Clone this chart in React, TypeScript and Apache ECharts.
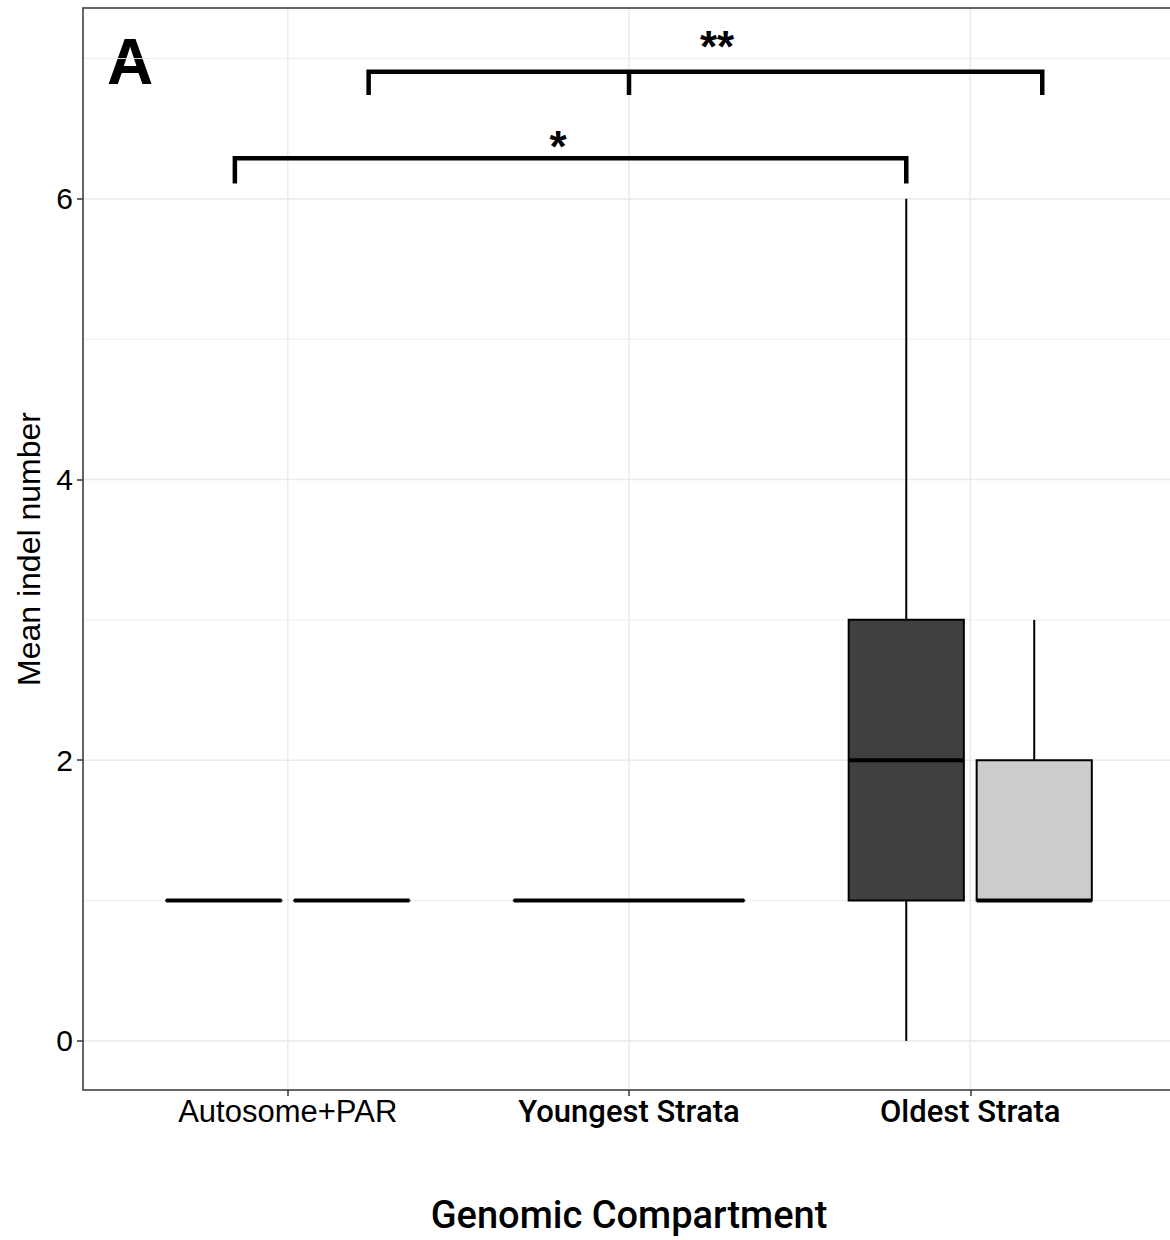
import React, { useEffect, useRef } from "react";
import * as echarts from "echarts";

// ---------- data ----------
const categories = ["Autosome+PAR", "Youngest Strata", "Oldest Strata"];
const groupNames = ["Group 1", "Group 2"];
// [min, q1, median, q3, max] for each category; null = no box
const group1Stats: (number[] | null)[] = [
  [1, 1, 1, 1, 1],
  [1, 1, 1, 1, 1],
  [0, 1, 2, 3, 6],
];
const group2Stats: (number[] | null)[] = [
  [1, 1, 1, 1, 1],
  null,
  [1, 1, 1, 2, 3],
];
const groupFills = ["#404040", "#CCCCCC"];

const yTickValues = [0, 2, 4, 6];
const yMinorValues = [1, 3, 5, 7];
const xTickValues = [1, 2, 3];
const xRange = [0.4, 3.6];
const yRange = [-0.35, 7.36];

// significance brackets (data coordinates)
const bracket1X = [0.845, 0.845, 2.8125, 2.8125];
const bracket1Y = [6.11, 6.29, 6.29, 6.11];
const bracket2X = [1.237, 1.237, 3.211, 3.211];
const bracket2Y = [6.74, 6.905, 6.905, 6.74];
const bracket2MidX = [2.0, 2.0];
const bracket2MidY = [6.905, 6.74];
const sigLabels = ["*", "**"];
const sigLabelX = [1.792, 2.258];
const sigLabelY = [6.42, 7.126];

const panelLabel = "A";

// ---------- helpers ----------
const DODGE = 0.75;
const BOX_FRAC = 0.9;

function buildBoxData(groupIndex: number) {
  const all = [group1Stats, group2Stats];
  const out: number[][] = [];
  categories.forEach((_, ci) => {
    const present = all.map((s, gi) => (s[ci] ? gi : -1)).filter((g) => g >= 0);
    const n = present.length;
    const slot = DODGE / n;
    present.forEach((gi, k) => {
      if (gi !== groupIndex) return;
      const center = ci + 1 - DODGE / 2 + slot * (k + 0.5);
      out.push([center, ...(all[gi][ci] as number[]), slot * BOX_FRAC]);
    });
  });
  return out;
}

function boxRender(fill: string) {
  return (params: any, api: any) => {
    const x = api.value(0);
    const w = api.value(6);
    const [xl, yq1] = api.coord([x - w / 2, api.value(2)]);
    const [xr, yq3] = api.coord([x + w / 2, api.value(4)]);
    const [xc, ymin] = api.coord([x, api.value(1)]);
    const ymax = api.coord([x, api.value(5)])[1];
    const ymed = api.coord([x, api.value(3)])[1];
    const lineStyle = { stroke: "#000", lineWidth: 2 };
    return {
      type: "group",
      children: [
        { type: "line", shape: { x1: xc, y1: yq3, x2: xc, y2: ymax }, style: lineStyle },
        { type: "line", shape: { x1: xc, y1: ymin, x2: xc, y2: yq1 }, style: lineStyle },
        {
          type: "rect",
          shape: { x: xl, y: yq3, width: xr - xl, height: Math.max(yq1 - yq3, 0.01) },
          style: { fill, stroke: "#000", lineWidth: 2 },
        },
        {
          type: "line",
          shape: { x1: xl, y1: ymed, x2: xr, y2: ymed },
          style: { stroke: "#000", lineWidth: 4, lineCap: "butt" },
        },
      ],
    };
  };
}

function toPairs(xs: number[], ys: number[]) {
  return xs.map((x, i) => [x, ys[i]]);
}

export default function App() {
  const ref = useRef<HTMLDivElement>(null);

  useEffect(() => {
    document.body.style.margin = "0";
    document.body.style.overflow = "hidden";
    if (!ref.current) return;
    const chart = echarts.init(ref.current, null, { renderer: "svg" });

    const hGridData = [
      ...yTickValues.map((v) => [v, 1]),
      ...yMinorValues.map((v) => [v, 0]),
    ];
    const vGridData = xTickValues.map((v) => [v]);

    const bracketLine = (data: number[][]) => ({
      type: "line",
      data,
      symbol: "none",
      z: 5,
      lineStyle: { color: "#000", width: 4.5, cap: "butt", join: "miter" },
      silent: true,
    });

    const option: any = {
      animation: false,
      backgroundColor: "#fff",
      grid: {
        left: 83,
        top: 8,
        right: 25,
        bottom: 150,
        show: false,
        containLabel: false,
        outerBoundsMode: "none",
      },
      xAxis: {
        type: "value",
        min: xRange[0],
        max: xRange[1],
        splitLine: { show: false },
        axisLine: { show: false, onZero: false },
        axisTick: {
          show: true,
          customValues: xTickValues,
          length: 6,
          lineStyle: { color: "#333", width: 1.5 },
        },
        axisLabel: {
          customValues: xTickValues,
          margin: 6,
          formatter: (v: number) => {
            const i = Math.round(v) - 1;
            if (Math.abs(v - Math.round(v)) > 1e-6 || i < 0 || i >= categories.length) return "";
            return i === 0 ? `{h|${categories[i]}}` : `{m|${categories[i]}}`;
          },
          rich: {
            h: { fontFamily: "Liberation Sans", fontSize: 31, color: "#000" },
            m: { fontFamily: "Roboto", fontWeight: 500, fontSize: 31, color: "#000" },
          },
        },
        name: "Genomic Compartment",
        nameLocation: "middle",
        nameGap: 106,
        nameTextStyle: { fontFamily: "Roboto", fontWeight: 500, fontSize: 38, color: "#000" },
      },
      yAxis: {
        type: "value",
        min: yRange[0],
        max: yRange[1],
        splitLine: { show: false },
        axisLine: { show: false, onZero: false },
        axisTick: {
          show: true,
          customValues: yTickValues,
          length: 6,
          lineStyle: { color: "#333", width: 1.5 },
        },
        axisLabel: {
          customValues: yTickValues,
          margin: 10,
          fontFamily: "Liberation Sans",
          fontSize: 30,
          color: "#000",
          formatter: (v: number) => (yTickValues.includes(v) ? String(v) : ""),
        },
        name: "Mean indel number",
        nameLocation: "middle",
        nameGap: 38,
        nameTextStyle: { fontFamily: "Liberation Sans", fontSize: 32, color: "#000" },
      },
      series: [
        {
          type: "custom",
          name: "hgrid",
          z: 1,
          silent: true,
          data: hGridData,
          renderItem: (params: any, api: any) => {
            const y = api.value(0);
            const major = api.value(1) === 1;
            const p1 = api.coord([xRange[0], y]);
            const p2 = api.coord([xRange[1], y]);
            return {
              type: "line",
              shape: { x1: p1[0], y1: p1[1], x2: p2[0], y2: p2[1] },
              style: { stroke: "#EBEBEB", lineWidth: major ? 1.6 : 0.9 },
            };
          },
        },
        {
          type: "custom",
          name: "vgrid",
          z: 1,
          silent: true,
          data: vGridData,
          renderItem: (params: any, api: any) => {
            const x = api.value(0);
            const p1 = api.coord([x, yRange[0]]);
            const p2 = api.coord([x, yRange[1]]);
            return {
              type: "line",
              shape: { x1: p1[0], y1: p1[1], x2: p2[0], y2: p2[1] },
              style: { stroke: "#EBEBEB", lineWidth: 1.6 },
            };
          },
        },
        {
          type: "custom",
          name: "panel",
          z: 7,
          silent: true,
          data: [[0]],
          renderItem: (params: any, api: any) => {
            const tl = api.coord([xRange[0], yRange[1]]);
            const br = api.coord([xRange[1], yRange[0]]);
            return {
              type: "rect",
              shape: { x: tl[0], y: tl[1], width: br[0] - tl[0], height: br[1] - tl[1] },
              style: { fill: "none", stroke: "#333", lineWidth: 1.5 },
            };
          },
        },
        ...groupNames.map((name, gi) => ({
          type: "custom",
          name,
          z: 3,
          data: buildBoxData(gi),
          renderItem: boxRender(groupFills[gi]),
        })),
        bracketLine(toPairs(bracket1X, bracket1Y)),
        bracketLine(toPairs(bracket2X, bracket2Y)),
        bracketLine(toPairs(bracket2MidX, bracket2MidY)),
        {
          type: "custom",
          name: "significance",
          z: 6,
          silent: true,
          data: sigLabels.map((s, i) => [sigLabelX[i], sigLabelY[i], i]),
          renderItem: (params: any, api: any) => {
            const p = api.coord([api.value(0), api.value(1)]);
            const fs = 44;
            return {
              type: "text",
              x: p[0],
              y: p[1] + fs * 0.14,
              style: {
                text: sigLabels[api.value(2)],
                fontFamily: "Liberation Sans",
                fontWeight: "bold",
                fontSize: fs,
                fill: "#000",
                align: "center",
                verticalAlign: "middle",
              },
            };
          },
        },
      ],
      graphic: [
        {
          type: "text",
          left: 107,
          top: 30,
          style: {
            text: panelLabel,
            fontFamily: "Liberation Sans",
            fontWeight: "bold",
            fontSize: 64,
            fill: "#000",
          },
        },
      ],
    };

    chart.setOption(option);
    return () => chart.dispose();
  }, []);

  return (
    <div style={{ width: 1170, height: 1240, overflow: "hidden" }}>
      <div ref={ref} style={{ width: 1200, height: 1240 }} />
    </div>
  );
}
